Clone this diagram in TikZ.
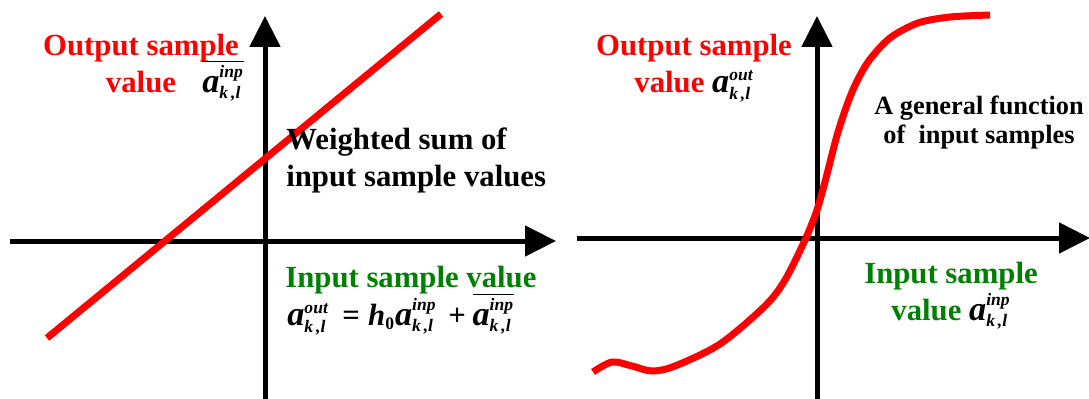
\documentclass[tikz,border=0pt]{standalone}
\usepackage{amsmath}
\usepackage{fontspec}
\setmainfont{Liberation Serif}
\usetikzlibrary{arrows.meta,positioning}
\definecolor{outred}{RGB}{255,0,0}
\definecolor{inpgreen}{RGB}{0,128,0}
\newcommand{\bi}[1]{\text{\bfseries\itshape #1}}
\newcommand{\scr}[1]{\mbox{\fontsize{10}{10}\selectfont\bfseries\itshape #1}}
\newcommand{\smp}[1]{\mbox{\fontsize{19.5}{20}\selectfont\bfseries\itshape a}^{\scr{#1}}_{\scr{k\,,l}}}

\begin{document}
\begin{tikzpicture}[x=0.02cm,y=-0.02cm,
  every node/.style={inner sep=0pt,font=\fontsize{17.5}{20.5}\selectfont\bfseries},
  axis/.style={line width=0.1cm,-{Triangle[length=0.62cm,width=0.6cm]}},
  curve/.style={line width=0.14cm,outred},
  lbl/.style={align=center,anchor=base}]
\useasboundingbox (0,0) rectangle (1089,399);
% left: linear filter
\draw[axis] (265,399) -- (265,16);
\draw[axis] (10,241) -- (556,241);
\draw[curve] (47,338) -- (441,14);
\node[lbl,outred] (outL) at (141,92) {Output sample\\value};
\node[anchor=base west] (meanL) at (202,92) {$\overline{\smp{inp}}$};
\node[anchor=base west,align=left] (sumL) at (286,186) {Weighted sum of\\input sample values};
\node[anchor=base west,inpgreen] (inpL) at (285,287) {Input sample value};
\node[anchor=base west] (eqL) at (287,325)
  {$\smp{out}\,\mathrel{\text{\bfseries =}} \bi{h}_{\mbox{\fontsize{10}{10}\selectfont\bfseries 0}}\smp{inp}\,\mathbin{\text{\bfseries +}}\overline{\smp{inp}}$};
% right: general function
\draw[axis] (817,399) -- (817,16);
\draw[axis] (577,238) -- (1090,238);
\draw[curve] plot[smooth,tension=0.5] coordinates {(593,372) (612,362) (632,366) (652,371)
  (675,366) (720,344) (765,306) (785,280) (805,240) (817,210) (826,178) (838,132)
  (852,92) (868,62) (890,38) (918,23) (950,17) (990,15)};
\node[lbl] (outR) at (694,92) {\textcolor{outred}{Output sample}\\\textcolor{outred}{value} $\smp{out}$};
\node[lbl,font=\fontsize{15}{16}\selectfont\bfseries] (funR) at (979,143) {A general function\\of\ \ input samples};
\node[lbl] (inpR) at (951,320) {\textcolor{inpgreen}{Input sample}\\\textcolor{inpgreen}{value} $\smp{inp}$};
\end{tikzpicture}
\end{document}
